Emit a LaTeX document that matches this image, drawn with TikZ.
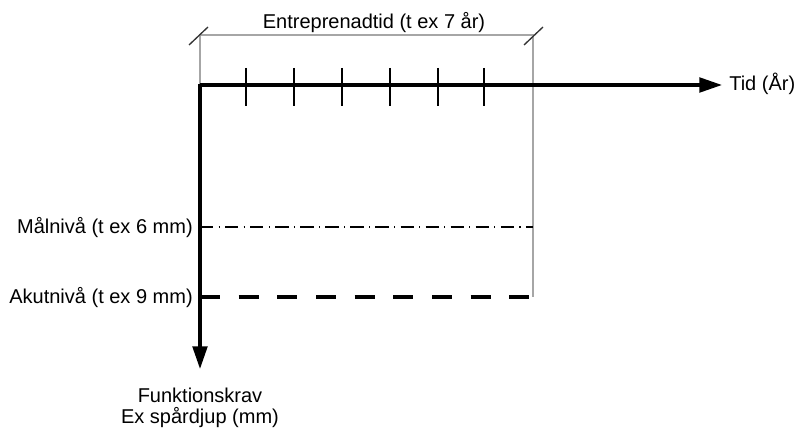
\documentclass[tikz,border=0pt]{standalone}
\usepackage{fontspec}
\setmainfont{Liberation Sans}
\usetikzlibrary{arrows.meta}
\begin{document}
\begin{tikzpicture}[x=0.75pt,y=-0.75pt,
  lbl/.style={font=\fontsize{15}{17}\selectfont, inner sep=0pt},
  axis/.style={line width=2.4pt, -{Triangle[length=17pt,width=11pt]}},
  guide/.style={draw=gray!70, line width=1.1pt},
  slash/.style={draw=black!80, line width=1pt},
  tickmark/.style={line width=1pt},
  target/.style={line width=0.8pt, dash pattern=on 10pt off 4pt on 0.8pt off 4pt},
  acute/.style={line width=2.4pt, dash pattern=on 15pt off 14pt}]
\useasboundingbox (0,0) rectangle (796,428);
\coordinate (O) at (200,85);
\coordinate (xend) at (722,85);
\coordinate (yend) at (200,369);
\coordinate (gl) at (200,35);
\coordinate (gr) at (533,35);
\coordinate (gb) at (533,297);
\coordinate (mr) at (533,227);
\coordinate (ml) at (200,227);
\coordinate (al) at (200,297);
% gray guide frame
\draw[guide] (O) -- (gl) -- (gr) -- (gb);
\draw[slash] (189,45) -- (208,27);
\draw[slash] (524,45) -- (543,27);
% levels
\draw[target] (ml) -- (mr);
\draw[acute] (al) -- (gb);
% ticks
\foreach \x in {246,294,342,390,438,484}
  \draw[tickmark] (\x,68) -- (\x,106);
% axes
\draw[axis] (O) -- (xend);
\draw[axis] ([yshift=0.9pt]O) -- (yend);
% labels
\node[lbl, anchor=base] (title) at (374,29) {Entreprenadtid (t ex 7 år)};
\node[lbl, anchor=base west] (tid) at (729,91) {Tid (År)};
\node[lbl, anchor=base east] (maal) at (193,233) {Målnivå (t ex 6 mm)};
\node[lbl, anchor=base east] (akut) at (193,303) {Akutnivå (t ex 9 mm)};
\node[lbl, anchor=base] (fk) at (200,402) {Funktionskrav};
\node[lbl, anchor=base] (ex) at (200,423) {Ex spårdjup (mm)};
\end{tikzpicture}
\end{document}
